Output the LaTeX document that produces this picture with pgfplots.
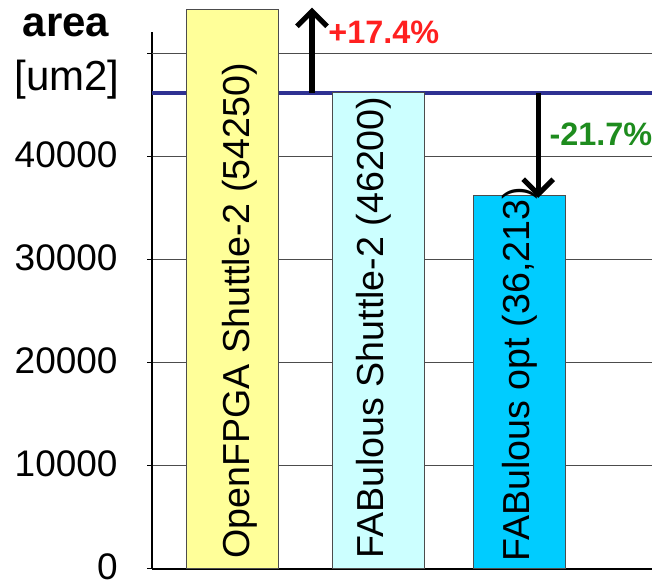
\documentclass[border=0pt]{standalone}
\usepackage{fontspec}
\setmainfont{Liberation Sans}
\usepackage{pgfplots}
\pgfplotsset{compat=1.18}
\usetikzlibrary{arrows.meta}
\definecolor{baryellow}{HTML}{FFFF99}
\definecolor{barcyan}{HTML}{CCFFFF}
\definecolor{barblue}{HTML}{00CCFF}
\definecolor{refline}{HTML}{2E3192}
\definecolor{pctred}{HTML}{FF2020}
\definecolor{pctgreen}{HTML}{1E8C1E}
\begin{document}
\begin{tikzpicture}
\path[use as bounding box] (-76pt,-6.5pt) rectangle (250pt,284.5pt);
\begin{axis}[
  at={(0,0)}, anchor=south west,
  scale only axis, width=250pt, height=268.5pt,
  xmin=-0.561, xmax=2.923, ymin=0, ymax=52100,
  axis lines*=left, clip=false,
  xtick=\empty,
  ytick={0,10000,20000,30000,40000},
  extra y ticks={50000}, extra y tick labels={},
  extra y tick style={grid=major},
  ymajorgrids,
  grid style={line width=0.5pt, color=black!70},
  tick align=outside, major tick length=2.5pt,
  tick style={black, line width=0.5pt},
  axis line style={line width=0.6pt, black},
  /pgf/number format/assume math mode=true,
  /pgf/number format/1000 sep={},
  scaled y ticks=false,
  yticklabel style={font=\fontsize{18.5}{22}\selectfont, anchor=east, inner sep=0pt, xshift=-14.5pt, yshift=1.2pt},
]
\addplot[refline, line width=1.7pt, forget plot] coordinates {(-0.561,46200) (2.923,46200)};
\addplot[ybar, bar width=46pt, bar shift=0pt, fill=baryellow, draw=black!70, line width=0.5pt] coordinates {(0,54250)};
\addplot[ybar, bar width=46pt, bar shift=0pt, fill=barcyan, draw=black!70, line width=0.5pt] coordinates {(1.02,46200)};
\addplot[ybar, bar width=46pt, bar shift=0pt, fill=barblue, draw=black!70, line width=0.5pt] coordinates {(2,36213)};
\addplot[black, line width=2.6pt, -{Straight Barb[length=7.5pt,width=15pt]}] coordinates {(0.554,46200) (0.554,54466)};
\addplot[black, line width=2.6pt, -{Straight Barb[length=7.5pt,width=15pt]}] coordinates {(2.13,46200) (2.13,36000)};
\node[rotate=90, anchor=west, inner sep=0pt, font=\fontsize{18.8}{22}\selectfont] at (axis cs:0.049,970) {OpenFPGA Shuttle-2 (54250)};
\node[rotate=90, anchor=west, inner sep=0pt, font=\fontsize{18.8}{22}\selectfont] at (axis cs:0.986,970) {FABulous Shuttle-2 (46200)};
\node[rotate=90, anchor=west, inner sep=0pt, font=\fontsize{18.8}{22}\selectfont] at (axis cs:2.0,700) {FABulous opt (36,213)};
\node[anchor=west, inner sep=0pt, text=pctred, font=\bfseries\fontsize{16.2}{20}\selectfont] at (axis cs:0.665,52039) {+17.4\%};
\node[anchor=west, inner sep=0pt, text=pctgreen, font=\bfseries\fontsize{16.2}{20}\selectfont] at (axis cs:2.206,42136) {-21.7\%};
\end{axis}
\node[inner sep=0pt, font=\bfseries\fontsize{21}{25}\selectfont] at (-43pt,272pt) {area};
\node[inner sep=0pt, font=\fontsize{21}{25}\selectfont] at (-42.5pt,244.5pt) {[um2]};
\end{tikzpicture}
\end{document}
